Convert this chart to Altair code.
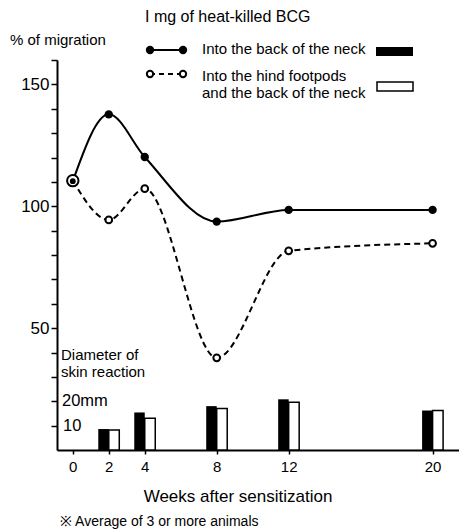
import altair as alt
import pandas as pd

# ---- data ----
weeks = [0, 2, 4, 8, 12, 20]
neck_migration = [110.3, 137.7, 120.2, 93.7, 98.5, 98.5]
footpad_migration = [110.5, 94.4, 107.2, 37.8, 81.7, 84.8]

bar_weeks = [2, 4, 8, 12, 20]
neck_diameter = [8.6, 15.4, 18.0, 20.8, 16.2]
footpad_diameter = [8.2, 13.0, 17.0, 19.6, 16.2]

x_ticks = [0, 2, 4, 8, 12, 20]
y_ticks = [10, 20, 30, 40, 50, 60, 70, 80, 90, 100, 110, 120, 130, 140, 150, 160]
y_labelled = [50, 100, 150]

FONT = "Liberation Sans"

lines = pd.DataFrame({
    "week": weeks * 2,
    "value": neck_migration + footpad_migration,
    "series": ["neck"] * len(weeks) + ["footpad"] * len(weeks),
})
bars = pd.DataFrame({
    "week": bar_weeks,
    "neck": neck_diameter,
    "footpad": footpad_diameter,
})
dummy = pd.DataFrame({"a": [0]})

xscale = alt.Scale(domain=[-0.6, 21.19], nice=False, zero=False)
yscale = alt.Scale(domain=[0, 160], nice=False)

xaxis = alt.Axis(
    values=x_ticks, tickSize=4, tickWidth=1.5, tickColor="black",
    domainColor="black", domainWidth=2, labelFontSize=15, labelPadding=5,
    labelColor="black", labelFont=FONT, grid=False, title=None,
)
lab_expr = "indexof([" + ",".join(str(v) for v in y_labelled) + "], datum.value) >= 0 ? datum.label : ''"
yaxis = alt.Axis(
    values=y_ticks, labelExpr=lab_expr, tickSize=6, tickWidth=1.5, tickColor="black",
    domainColor="black", domainWidth=2, labelFontSize=17, labelPadding=2,
    labelColor="black", labelFont=FONT, grid=False, title=None,
)

X = alt.X("week:Q", scale=xscale, axis=xaxis, title=None)
Y = alt.Y("value:Q", scale=yscale, axis=yaxis, title=None)

base = alt.Chart(lines)

dashed = base.transform_filter("datum.series == 'footpad'").mark_line(
    interpolate="monotone", color="black", strokeWidth=2, strokeDash=[6, 4]
).encode(x=X, y=Y)

solid = base.transform_filter("datum.series == 'neck'").mark_line(
    interpolate="monotone", color="black", strokeWidth=2
).encode(x=X, y=Y)

open_pts = base.transform_filter("datum.series == 'footpad' && datum.week > 0").mark_point(
    shape="circle", filled=False, fill="white", fillOpacity=1, color="black",
    strokeWidth=2, size=45, opacity=1
).encode(x=X, y=Y)

filled_pts = base.transform_filter("datum.series == 'neck' && datum.week > 0").mark_point(
    shape="circle", filled=True, color="black", size=70, opacity=1
).encode(x=X, y=Y)

ring0 = base.transform_filter("datum.series == 'footpad' && datum.week == 0").mark_point(
    shape="circle", filled=False, fill="white", fillOpacity=1, color="black",
    strokeWidth=2, size=130, opacity=1
).encode(x=X, y=Y)

dot0 = base.transform_filter("datum.series == 'neck' && datum.week == 0").mark_point(
    shape="circle", filled=True, color="black", size=34, opacity=1
).encode(x=X, y=Y)

black_bars = alt.Chart(bars).mark_bar(
    color="black", width=10.5, xOffset=-5.25
).encode(x=X, y=alt.Y("neck:Q", scale=yscale, axis=yaxis, title=None))

white_bars = alt.Chart(bars).mark_bar(
    fill="white", stroke="black", strokeWidth=1.5, width=10.5, xOffset=5.25
).encode(x=X, y=alt.Y("footpad:Q", scale=yscale, axis=yaxis, title=None))


def txt(s, x, y, size=14, align="left"):
    return alt.Chart(dummy).mark_text(
        text=s, align=align, baseline="middle", font=FONT, fontSize=size, color="black"
    ).encode(x=alt.value(x), y=alt.value(y))


annotations = [
    txt("I mg of heat-killed BCG", 88, -43, 16),
    txt("% of migration", -47, -20, 15),
    txt("Into the back of the neck", 145, -11, 15),
    txt("Into the hind footpods", 145, 16, 15),
    txt("and the back of the neck", 145, 33, 15),
    txt("Diameter of", 4, 295, 15),
    txt("skin reaction", 4, 312, 15),
    txt("20mm", 5, 341, 16.5),
    txt("10", 6, 366, 16.5),
    txt("Weeks after sensitization", 181, 437, 17, "center"),
    txt("\u203b  Average of 3 or more animals", 3, 462, 14),
]

leg = [
    alt.Chart(dummy).mark_rule(color="black", strokeWidth=2).encode(
        x=alt.value(93), x2=alt.value(126), y=alt.value(-10)),
    alt.Chart(dummy).mark_rule(color="black", strokeWidth=2, strokeDash=[5, 4]).encode(
        x=alt.value(93), x2=alt.value(126), y=alt.value(14)),
    alt.Chart(dummy).mark_point(shape="circle", filled=True, color="black", size=70, opacity=1).encode(
        x=alt.value(93), y=alt.value(-10)),
    alt.Chart(dummy).mark_point(shape="circle", filled=True, color="black", size=70, opacity=1).encode(
        x=alt.value(126), y=alt.value(-10)),
    alt.Chart(dummy).mark_point(shape="circle", filled=False, fill="white", fillOpacity=1, color="black",
                                strokeWidth=2, size=40, opacity=1).encode(
        x=alt.value(93), y=alt.value(14)),
    alt.Chart(dummy).mark_point(shape="circle", filled=False, fill="white", fillOpacity=1, color="black",
                                strokeWidth=2, size=40, opacity=1).encode(
        x=alt.value(126), y=alt.value(14)),
    alt.Chart(dummy).mark_rect(color="black").encode(
        x=alt.value(319), x2=alt.value(356), y=alt.value(-13), y2=alt.value(-4)),
    alt.Chart(dummy).mark_rect(fill="white", stroke="black", strokeWidth=1.5).encode(
        x=alt.value(320), x2=alt.value(356), y=alt.value(22), y2=alt.value(31)),
]

chart = alt.layer(
    dashed, solid, black_bars, white_bars, open_pts, filled_pts, ring0, dot0,
    *leg, *annotations
).properties(
    width=402, height=390,
    autosize=alt.AutoSizeParams(type="none"),
    padding={"left": 57, "top": 60, "right": 0, "bottom": 81},
    background="white",
).configure_view(stroke=None)

chart.save("out.html", embed_options={"renderer": "svg", "actions": False})
